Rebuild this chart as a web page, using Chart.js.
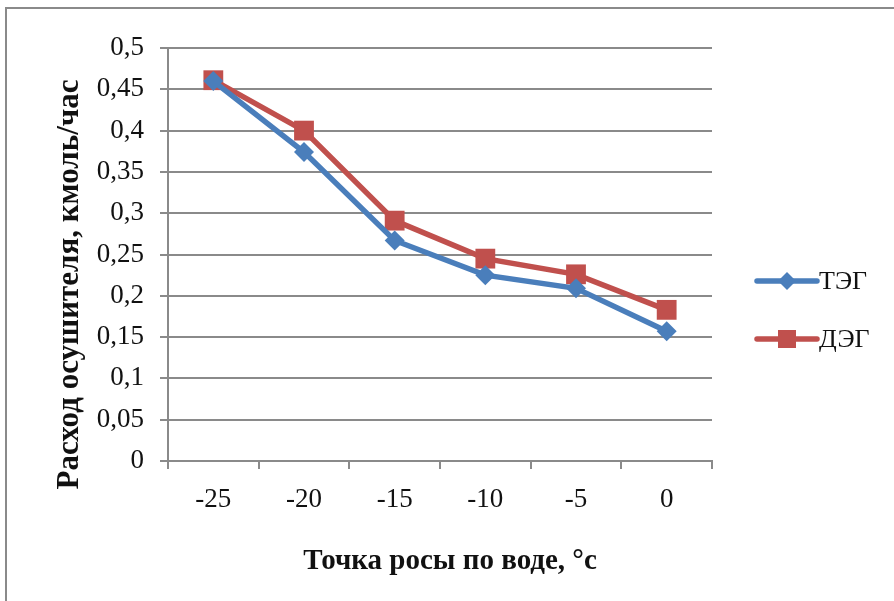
<!DOCTYPE html>
<html>
<head>
<meta charset="utf-8">
<script src="https://cdn.jsdelivr.net/npm/chart.js@4/dist/chart.umd.min.js"></script>
<style>
  html, body { margin: 0; padding: 0; background: #fff; overflow: hidden; }
  #frame { position: absolute; left: 5px; top: 7px; width: 1000px; height: 700px; border: 2px solid #8a8a8a; }
  #wrap { position: absolute; left: 0; top: 0; width: 894px; height: 601px; }
</style>
</head>
<body>
<div id="frame"></div>
<div id="wrap"><canvas id="c" width="894" height="601"></canvas></div>
<script>
// Данные
const categories = ['-25', '-20', '-15', '-10', '-5', '0'];
const tegValues  = [0.460, 0.374, 0.267, 0.225, 0.209, 0.157];
const degValues  = [0.461, 0.400, 0.291, 0.245, 0.226, 0.183];
const seriesNames = ['ТЭГ', 'ДЭГ'];
const xTitle = 'Точка росы по воде, °с';
const yTitle = 'Расход осушителя, кмоль/час';

const FONT = "'Liberation Serif', 'DejaVu Serif', serif";
const GRID = '#8a8a8a';
const BLUE = '#4a7ebb';
const RED  = '#c0504d';

// Подписи осей: в оригинале они смещены относительно центра области графика
const axisTitles = {
  id: 'axisTitles',
  afterDraw(chart) {
    const { ctx, chartArea } = chart;
    ctx.save();
    ctx.fillStyle = '#111';
    ctx.textAlign = 'center';
    ctx.textBaseline = 'middle';
    ctx.font = 'bold 29px ' + FONT;
    ctx.fillText(xTitle, (chartArea.left + chartArea.right) / 2 + 10, 562);
    ctx.translate(70, (chartArea.top + chartArea.bottom) / 2 + 30);
    ctx.rotate(-Math.PI / 2);
    ctx.font = 'bold 31px ' + FONT;
    ctx.fillText(yTitle, 0, 0);
    ctx.restore();
  }
};

// Легенда справа: линия с маркером + подпись
const sideLegend = {
  id: 'sideLegend',
  afterDraw(chart) {
    const { ctx, chartArea } = chart;
    const x0 = chartArea.right + 45;
    const rows = [chartArea.top + 233, chartArea.top + 291];
    chart.data.datasets.forEach((ds, i) => {
      const y = rows[i];
      ctx.save();
      ctx.strokeStyle = ds.borderColor;
      ctx.lineWidth = 5.5;
      ctx.lineCap = 'round';
      ctx.beginPath();
      ctx.moveTo(x0, y); ctx.lineTo(x0 + 60, y);
      ctx.stroke();
      ctx.fillStyle = ds.pointBackgroundColor;
      const cx = x0 + 30;
      if (ds.pointStyle === 'rectRot') {
        const r = 9;
        ctx.beginPath();
        ctx.moveTo(cx, y - r); ctx.lineTo(cx + r, y); ctx.lineTo(cx, y + r); ctx.lineTo(cx - r, y);
        ctx.closePath(); ctx.fill();
      } else {
        ctx.fillRect(cx - 9, y - 9, 18, 18);
      }
      ctx.fillStyle = '#111';
      ctx.font = '26px ' + FONT;
      ctx.textBaseline = 'middle';
      ctx.textAlign = 'left';
      ctx.fillText(ds.label, x0 + 62, y + 1);
      ctx.restore();
    });
  }
};

new Chart(document.getElementById('c'), {
  type: 'line',
  data: {
    labels: categories,
    datasets: [
      {
        label: seriesNames[0], data: tegValues,
        borderColor: BLUE, backgroundColor: BLUE,
        pointBackgroundColor: BLUE, pointBorderColor: BLUE,
        borderWidth: 5.5, pointStyle: 'rectRot', pointRadius: 10, pointBorderWidth: 0,
        tension: 0, fill: false
      },
      {
        label: seriesNames[1], data: degValues,
        borderColor: RED, backgroundColor: RED,
        pointBackgroundColor: RED, pointBorderColor: RED,
        borderWidth: 5.5, pointStyle: 'rect', pointRadius: 14, pointBorderWidth: 0,
        tension: 0, fill: false
      }
    ]
  },
  options: {
    responsive: false,
    animation: false,
    devicePixelRatio: 1,
    layout: { padding: { left: 50, right: 182, top: 48, bottom: 0 } },
    plugins: {
      legend: { display: false },
      tooltip: { enabled: false }
    },
    scales: {
      x: {
        offset: true,
        grid: { display: true, offset: true, drawOnChartArea: false, drawTicks: true, tickLength: 8, tickColor: GRID, lineWidth: 2 },
        border: { color: GRID, width: 2 },
        ticks: { color: '#111', font: { family: FONT, size: 27 }, padding: 15, maxRotation: 0 },
        title: { display: false },
        afterFit: s => { s.height = 140; }
      },
      y: {
        min: 0, max: 0.5,
        grid: { color: GRID, lineWidth: 2, tickLength: 8, tickColor: GRID },
        border: { color: GRID, width: 2 },
        ticks: {
          stepSize: 0.05, color: '#111', padding: 16,
          font: { family: FONT, size: 27 },
          callback: v => String(+v.toFixed(2)).replace('.', ',')
        },
        title: { display: false },
        afterFit: s => { s.width = 118; }
      }
    }
  },
  plugins: [sideLegend, axisTitles]
});
</script>
</body>
</html>
